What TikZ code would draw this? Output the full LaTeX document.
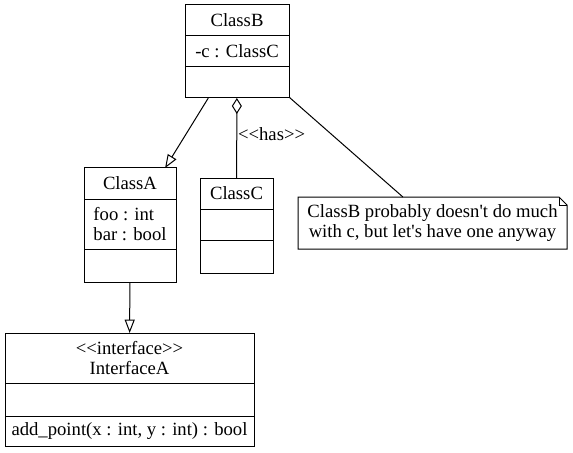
\documentclass[tikz,border=0pt]{standalone}
\usepackage{fontspec}
\setmainfont{Liberation Serif}
\usetikzlibrary{positioning,arrows.meta,fit}

\begin{document}
\begin{tikzpicture}[
    x=0.75pt, y=-0.75pt,
    every node/.style={font=\fontsize{14}{15}\selectfont, inner sep=0pt, outer sep=0pt},
    part/.style={rectangle, draw, line width=0.75pt, minimum height=23.25pt, align=center},
    tall/.style={part, minimum height=37.5pt},
    whole/.style={rectangle, inner sep=0pt},
    link/.style={line width=0.75pt},
    inherit/.style={link, -{Triangle[open, length=10pt, width=7.5pt]}},
    has/.style={link, {Diamond[open, length=12pt, width=7.5pt]}-}
]
\useasboundingbox (0,0) rectangle (573,452);

\node[part, minimum width=78pt, anchor=north] (b1) at (237,5) {ClassB};
\node[part, minimum width=78pt, below=0pt of b1] (b2) {-c : ClassC};
\node[part, minimum width=78pt, below=0pt of b2] (b3) {};
\node[whole, fit=(b1)(b3)] (b) {};

\node[part, minimum width=69pt, anchor=north] (a1) at (130,168) {ClassA};
\node[tall, minimum width=69pt, align=left, below=0pt of a1] (a2) {foo : int\\bar : bool};
\node[part, minimum width=69pt, minimum height=24.75pt, below=0pt of a2] (a3) {};
\node[whole, fit=(a1)(a3)] (a) {};

\node[part, minimum width=54.75pt, anchor=north] (c1) at (236.5,178) {ClassC};
\node[part, minimum width=54.75pt, below=0pt of c1] (c2) {};
\node[part, minimum width=54.75pt, minimum height=24.75pt, below=0pt of c2] (c3) {};
\node[whole, fit=(c1)(c3)] (c) {};

\node[tall, minimum width=186.75pt, anchor=north] (i1) at (129.5,333) {<{}<interface>{}>\\InterfaceA};
\node[part, minimum width=186.75pt, minimum height=24.75pt, below=0pt of i1] (i2) {};
\node[part, minimum width=186.75pt, minimum height=22.5pt, below=0pt of i2] (i3) {add\_point(x : int, y : int) : bool};
\node[whole, fit=(i1)(i3)] (i) {};

\node[whole, minimum width=201.75pt, minimum height=39pt, align=center] (n) at (432.5,223) {ClassB probably doesn\textquotesingle t do much\\with c, but let\textquotesingle s have one anyway};
\draw[link] (n.north west) -- ([xshift=-6pt]n.north east) -- ([yshift=-6pt]n.north east) -- (n.south east) -- (n.south west) -- cycle;
\draw[link] ([xshift=-6pt]n.north east) |- ([yshift=-6pt]n.north east);

\draw[inherit] (b) -- (a);
\draw[inherit] (a) -- (i);
\draw[has] (b) -- (c) node[pos=0.45, right=1pt] {<{}<has>{}>};
\draw[link] (b) -- (n);
\end{tikzpicture}
\end{document}
